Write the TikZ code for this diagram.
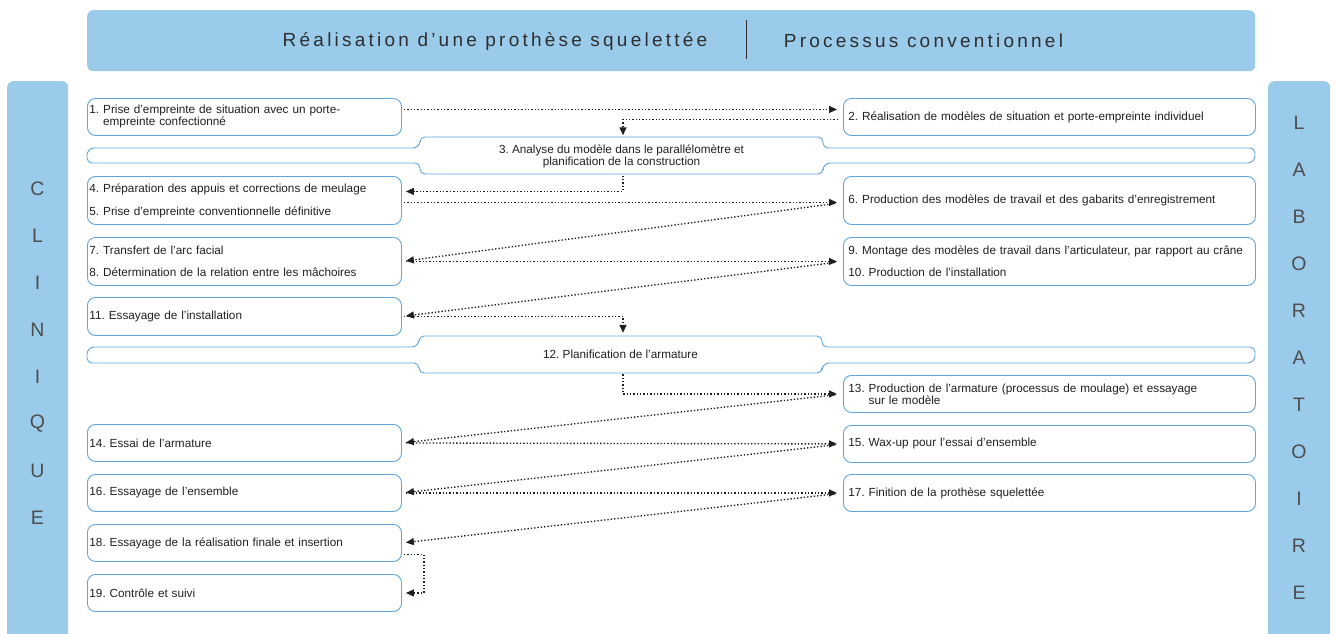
\documentclass[tikz,border=0pt]{standalone}
\usepackage{fontspec}
\setmainfont{Liberation Sans}
\newfontfamily\headfont[LetterSpace=17]{Liberation Sans}
\usetikzlibrary{arrows.meta}
\definecolor{panelblue}{HTML}{9ACBEB}
\definecolor{boxblue}{HTML}{62A5DD}
\definecolor{txt}{HTML}{231F20}
\definecolor{headtxt}{HTML}{2E2E2E}
\frenchspacing
\begin{document}
\begin{tikzpicture}[x=1pt,y=-1pt,
  panel/.style={fill=panelblue, draw=none, rounded corners=6pt},
  boxline/.style={draw=boxblue, line width=0.9pt, fill=white},
  lbox/.style={boxline, rounded corners=8pt, anchor=north west, inner xsep=2pt, inner ysep=0pt,
     minimum width=314pt, text width=310pt, align=left, font=\fontsize{11.75}{12}\selectfont, text=txt},
  rbox/.style={lbox, inner xsep=5pt, minimum width=412pt, text width=402pt},
  plain/.style={inner sep=0pt, font=\fontsize{11.75}{12}\selectfont, text=txt, align=center},
  letter/.style={inner sep=0pt, font=\fontsize{19.5}{20}\selectfont, text=headtxt!85},
  conn/.style={draw=black!88, line width=1.35pt, dash pattern=on 1.35pt off 2pt,
     -{Triangle[length=8pt,width=7pt]}},
]
\useasboundingbox (0,0) rectangle (1336,633);
\fill[white] (0,0) rectangle (1336,633);

% header
\node[panel, anchor=north west, minimum width=1168pt, minimum height=61pt] (head) at (87,10) {};
\node[inner sep=0pt, font=\headfont\fontsize{19}{22}\selectfont, text=headtxt] (t1) at (495,41) {Réalisation d’une prothèse squelettée};
\node[inner sep=0pt, font=\headfont\fontsize{19}{22}\selectfont, text=headtxt] (t2) at (923.5,41) {Processus conventionnel};
\coordinate (sepA) at (746,20);
\coordinate (sepB) at (746,59);
\draw[headtxt, line width=0.7pt] (sepA) -- (sepB);

% side panels
\node[panel, anchor=north west, minimum width=61pt, minimum height=580pt] (clin) at (7,81) {};
\node[panel, anchor=north west, minimum width=62pt, minimum height=580pt] (labo) at (1268,81) {};
\foreach \c [count=\i from 0] in {C,L,I,N,I,Q,U,E}
  \node[letter] (cl\i) at (37.5,189+47*\i) {\c};
\foreach \c [count=\i from 0] in {L,A,B,O,R,A,T,O,I,R,E}
  \node[letter] (lb\i) at (1299,123+47*\i) {\c};

% bars with central boxes
\draw[boxline] (621.5,137) [rounded corners=5pt] -- (823,137) -- (823,148) -- (1255,148)
  [rounded corners=7.4pt] -- (1255,163) -- (823,163) [rounded corners=5pt] -- (823,174) -- (420,174)
  -- (420,163) -- (87,163) [rounded corners=7.4pt] -- (87,148) -- (420,148) [rounded corners=5pt]
  -- (420,137) -- cycle;
\draw[boxline] (620.5,336) [rounded corners=5pt] -- (822,336) -- (822,347) -- (1255,347)
  [rounded corners=7.4pt] -- (1255,363) -- (822,363) [rounded corners=5pt] -- (822,373) -- (419,373)
  -- (419,363) -- (87,363) [rounded corners=7.4pt] -- (87,347) -- (419,347) [rounded corners=5pt]
  -- (419,336) -- cycle;
\node[plain, minimum width=403pt, minimum height=37pt] (n3) at (621.5,156)
  {3. Analyse du modèle dans le parallélomètre et\\planification de la construction};
\node[plain, minimum width=403pt, minimum height=37pt] (n12) at (620.5,354.5)
  {12. Planification de l’armature};

% left boxes
\node[lbox, minimum height=37pt] (n1) at (87,98)
  {1. Prise d’empreinte de situation avec un porte-\\\hphantom{1. }empreinte confectionné};
\node[lbox, minimum height=48pt] (n45) at (87,176)
  {4. Préparation des appuis et corrections de meulage\\[11pt]5. Prise d’empreinte conventionnelle définitive};
\node[lbox, minimum height=48pt] (n78) at (87,237)
  {7. Transfert de l’arc facial\\[10pt]8. Détermination de la relation entre les mâchoires};
\node[lbox, minimum height=38pt] (n11) at (87,297) {11. Essayage de l’installation};
\node[lbox, minimum height=37pt] (n14) at (87,424) {14. Essai de l’armature};
\node[lbox, minimum height=37pt] (n16) at (87,474) {16. Essayage de l’ensemble};
\node[lbox, minimum height=37pt] (n18) at (87,524) {18. Essayage de la réalisation finale et insertion};
\node[lbox, minimum height=37pt] (n19) at (87,574) {19. Contrôle et suivi};

% right boxes
\node[rbox, minimum height=37pt] (n2) at (843,98)
  {2. Réalisation de modèles de situation et porte-empreinte individuel};
\node[rbox, minimum height=48pt] (n6) at (843,176)
  {6. Production des modèles de travail et des gabarits d’enregistrement};
\node[rbox, minimum height=48pt] (n910) at (843,237)
  {9. Montage des modèles de travail dans l’articulateur, par rapport au crâne\\[10pt]10. Production de l’installation};
\node[rbox, minimum height=37pt] (n13) at (843,375)
  {13. Production de l’armature (processus de moulage) et essayage\\\hphantom{13. }sur le modèle};
\node[rbox, minimum height=37pt] (n15) at (843,425) {15. Wax-up pour l’essai d’ensemble};
\node[rbox, minimum height=37pt] (n17) at (843,474) {17. Finition de la prothèse squelettée};

% connectors
\draw[conn, shorten <=2pt, shorten >=6pt] ([yshift=7.5pt]n1.east) -- ([yshift=7.5pt]n2.west);
\draw[conn, shorten <=5pt, shorten >=2pt] ([yshift=-2.5pt]n2.west) -| ([xshift=1.5pt]n3.north);
\draw[conn, shorten <=1pt, shorten >=4pt] ([xshift=1.5pt]n3.south) |- ([yshift=9pt]n45.east);
\draw[conn, shorten <=2pt, shorten >=6pt] ([yshift=-2pt]n45.east) -- ([yshift=-2pt]n6.west);
\draw[conn, shorten <=8pt, shorten >=4pt] ([yshift=-2pt]n6.west) -- (n78.east);
\draw[conn, shorten <=4pt, shorten >=6pt] (n78.east) -- (n910.west);
\draw[conn, shorten <=8pt, shorten >=4pt] (n910.west) -- (n11.east);
\draw[conn, shorten <=2pt, shorten >=3pt] (n11.east) -| ([xshift=2.5pt]n12.north);
\draw[conn, shorten <=1pt, shorten >=6pt] ([xshift=2.5pt]n12.south) |- (n13.west);
\draw[conn, shorten <=8pt, shorten >=4pt] (n13.west) -- (n14.east);
\draw[conn, shorten <=4pt, shorten >=6pt] (n14.east) -- (n15.west);
\draw[conn, shorten <=8pt, shorten >=4pt] (n15.west) -- (n16.east);
\draw[conn, shorten <=4pt, shorten >=6pt] (n16.east) -- (n17.west);
\draw[conn, shorten <=8pt, shorten >=4pt] (n17.west) -- (n18.east);
\draw[conn, shorten <=2pt, shorten >=4pt] ([yshift=-11.5pt]n18.east) -| ([xshift=22pt]n19.east) -- (n19.east);
\end{tikzpicture}
\end{document}
